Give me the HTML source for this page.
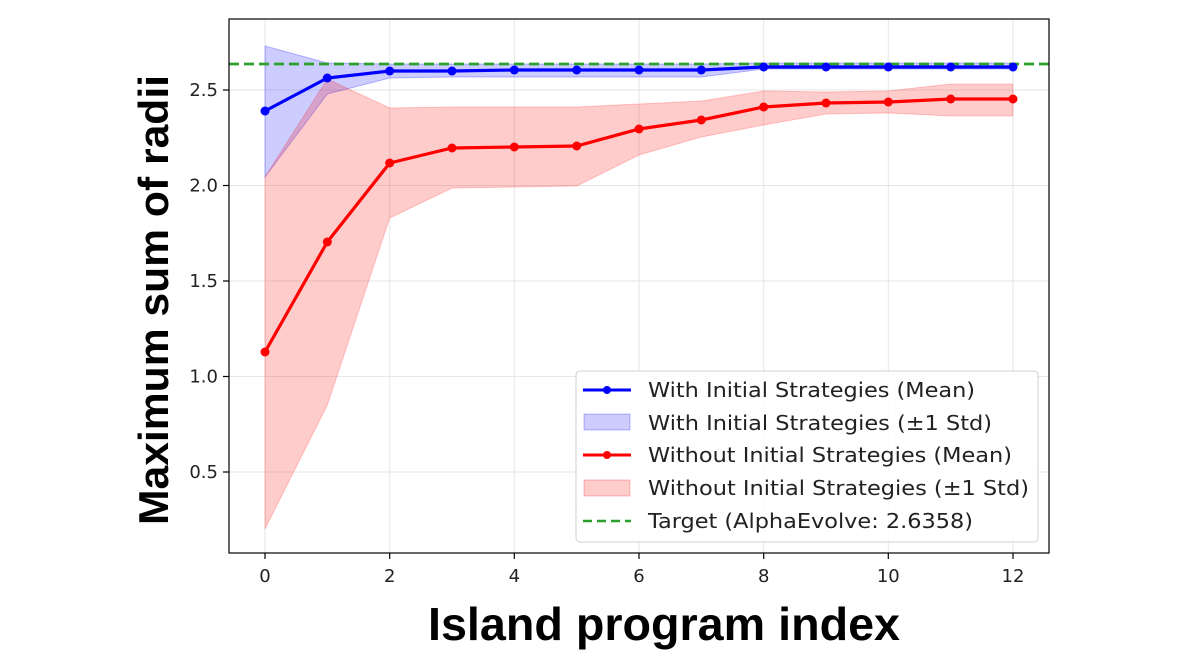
<!DOCTYPE html>
<html><head><meta charset="utf-8"><style>body{margin:0;background:#fff}svg{display:block;font-family:"DejaVu Sans","Liberation Sans",sans-serif}</style></head><body>
<svg width="1189" height="669" viewBox="0 0 1189 669">
<g stroke="#e6e6e6" stroke-width="1">
<line x1="265" y1="19" x2="265" y2="553"/><line x1="389.7" y1="19" x2="389.7" y2="553"/><line x1="514.3" y1="19" x2="514.3" y2="553"/><line x1="639" y1="19" x2="639" y2="553"/><line x1="763.7" y1="19" x2="763.7" y2="553"/><line x1="888.3" y1="19" x2="888.3" y2="553"/><line x1="1013" y1="19" x2="1013" y2="553"/>
<line x1="229" y1="472" x2="1049" y2="472"/><line x1="229" y1="376.5" x2="1049" y2="376.5"/><line x1="229" y1="281" x2="1049" y2="281"/><line x1="229" y1="185.5" x2="1049" y2="185.5"/><line x1="229" y1="90" x2="1049" y2="90"/>
</g>
<polygon fill="rgba(0,0,255,0.2)" stroke="rgba(0,0,255,0.25)" points="265,46 327.3,63 389.7,64 452,64 514.3,64 576.7,64 639,64 701.3,64 763.7,63 826,63 888.3,63 950.7,63 1013,63 1013,69 950.7,69 888.3,69 826,69 763.7,69 701.3,77 639,77 576.7,77 514.3,77 452,77 389.7,78 327.3,94 265,177"/>
<polygon fill="rgba(255,0,0,0.2)" stroke="rgba(255,0,0,0.2)" points="265,177 327.3,79 389.7,108 452,107 514.3,107 576.7,107 639,104 701.3,101 763.7,91 826,92 888.3,91 950.7,84 1013,84 1013,116 950.7,116 888.3,113 826,114 763.7,125 701.3,137 639,155 576.7,186 514.3,187 452,188 389.7,218 327.3,405 265,529"/>
<line x1="229" y1="64" x2="1049" y2="64" stroke="#2ca02c" stroke-width="2.8" stroke-dasharray="10,5"/>
<g fill="#0000ff"><polyline fill="none" stroke="#0000ff" stroke-width="3.2" points="265,111 327.3,78 389.7,71 452,71 514.3,70 576.7,70 639,70 701.3,70 763.7,67 826,67 888.3,67 950.7,67 1013,67"/>
<circle cx="265" cy="111" r="4.5"/><circle cx="327.3" cy="78" r="4.5"/><circle cx="389.7" cy="71" r="4.5"/><circle cx="452" cy="71" r="4.5"/><circle cx="514.3" cy="70" r="4.5"/><circle cx="576.7" cy="70" r="4.5"/><circle cx="639" cy="70" r="4.5"/><circle cx="701.3" cy="70" r="4.5"/><circle cx="763.7" cy="67" r="4.5"/><circle cx="826" cy="67" r="4.5"/><circle cx="888.3" cy="67" r="4.5"/><circle cx="950.7" cy="67" r="4.5"/><circle cx="1013" cy="67" r="4.5"/></g>
<g fill="#ff0000"><polyline fill="none" stroke="#ff0000" stroke-width="3.2" points="265,352 327.3,242 389.7,163 452,148 514.3,147 576.7,146 639,129 701.3,120 763.7,107 826,103 888.3,102 950.7,99 1013,99"/>
<circle cx="265" cy="352" r="4.5"/><circle cx="327.3" cy="242" r="4.5"/><circle cx="389.7" cy="163" r="4.5"/><circle cx="452" cy="148" r="4.5"/><circle cx="514.3" cy="147" r="4.5"/><circle cx="576.7" cy="146" r="4.5"/><circle cx="639" cy="129" r="4.5"/><circle cx="701.3" cy="120" r="4.5"/><circle cx="763.7" cy="107" r="4.5"/><circle cx="826" cy="103" r="4.5"/><circle cx="888.3" cy="102" r="4.5"/><circle cx="950.7" cy="99" r="4.5"/><circle cx="1013" cy="99" r="4.5"/></g>
<rect x="229" y="19" width="820" height="534" fill="none" stroke="#000" stroke-width="1.2"/>
<g stroke="#000" stroke-width="1.2">
<line x1="265" y1="553" x2="265" y2="559"/><line x1="389.7" y1="553" x2="389.7" y2="559"/><line x1="514.3" y1="553" x2="514.3" y2="559"/><line x1="639" y1="553" x2="639" y2="559"/><line x1="763.7" y1="553" x2="763.7" y2="559"/><line x1="888.3" y1="553" x2="888.3" y2="559"/><line x1="1013" y1="553" x2="1013" y2="559"/>
<line x1="223" y1="472" x2="229" y2="472"/><line x1="223" y1="376.5" x2="229" y2="376.5"/><line x1="223" y1="281" x2="229" y2="281"/><line x1="223" y1="185.5" x2="229" y2="185.5"/><line x1="223" y1="90" x2="229" y2="90"/>
</g>
<g font-size="18" fill="#222" text-anchor="middle">
<text x="265" y="582">0</text><text x="389.7" y="582">2</text><text x="514.3" y="582">4</text><text x="639" y="582">6</text><text x="763.7" y="582">8</text><text x="888.3" y="582">10</text><text x="1013" y="582">12</text>
</g>
<g font-size="18" fill="#222" text-anchor="end">
<text x="218" y="478">0.5</text><text x="218" y="382.5">1.0</text><text x="218" y="287">1.5</text><text x="218" y="191.5">2.0</text><text x="218" y="96">2.5</text>
</g>
<text x="664" y="640" font-family="Liberation Sans,sans-serif" font-weight="bold" font-size="46" text-anchor="middle" fill="#000" textLength="472" lengthAdjust="spacingAndGlyphs">Island program index</text>
<text transform="translate(168,300) rotate(-90)" font-family="Liberation Sans,sans-serif" font-weight="bold" font-size="42" text-anchor="middle" fill="#000" textLength="450" lengthAdjust="spacingAndGlyphs">Maximum sum of radii</text>
<rect x="576" y="371" width="462" height="171" rx="4" fill="rgba(255,255,255,0.85)" stroke="#d0d0d0"/>
<line x1="583" y1="390" x2="631" y2="390" stroke="#0000ff" stroke-width="3"/><circle cx="607" cy="390" r="4" fill="#0000ff"/>
<rect x="584" y="414" width="46" height="16" fill="rgba(0,0,255,0.2)" stroke="rgba(0,0,255,0.25)"/>
<line x1="583" y1="455" x2="631" y2="455" stroke="#ff0000" stroke-width="3"/><circle cx="607" cy="455" r="4" fill="#ff0000"/>
<rect x="584" y="480" width="46" height="16" fill="rgba(255,0,0,0.2)" stroke="rgba(255,0,0,0.25)"/>
<line x1="583" y1="521" x2="631" y2="521" stroke="#2ca02c" stroke-width="2.5" stroke-dasharray="9,5"/>
<g font-size="20" fill="#222">
<text x="648" y="397" textLength="327" lengthAdjust="spacingAndGlyphs">With Initial Strategies (Mean)</text>
<text x="648" y="430" textLength="344" lengthAdjust="spacingAndGlyphs">With Initial Strategies (±1 Std)</text>
<text x="648" y="462" textLength="364" lengthAdjust="spacingAndGlyphs">Without Initial Strategies (Mean)</text>
<text x="648" y="495" textLength="381" lengthAdjust="spacingAndGlyphs">Without Initial Strategies (±1 Std)</text>
<text x="648" y="528" textLength="325" lengthAdjust="spacingAndGlyphs">Target (AlphaEvolve: 2.6358)</text>
</g>
</svg>
</body></html>
